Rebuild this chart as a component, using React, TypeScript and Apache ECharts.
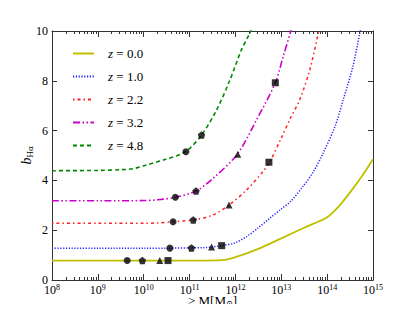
import React, { useEffect, useRef } from "react";
import * as echarts from "echarts";

// log10(M) positions and bias values
const z00_e = [8, 9, 10, 11, 11.6, 11.8, 12.0, 12.2, 12.4, 12.6, 13.0, 13.5, 14.0, 14.25, 14.5, 14.75, 15];
const z00_b = [0.78, 0.78, 0.78, 0.78, 0.79, 0.82, 0.92, 1.04, 1.18, 1.33, 1.67, 2.1, 2.52, 2.95, 3.52, 4.15, 4.85];

const z10_e = [8, 9, 10, 10.6, 11.0, 11.3, 11.5, 11.7, 12.0, 12.25, 12.5, 12.75, 13.0, 13.2, 13.47, 13.7, 13.9, 14.17, 14.35, 14.56, 14.71, 14.74];
const z10_b = [1.28, 1.28, 1.28, 1.28, 1.29, 1.3, 1.33, 1.38, 1.5, 1.75, 2.1, 2.48, 2.85, 3.15, 3.75, 4.35, 5.05, 6.16, 7.23, 8.57, 9.9, 10.2];

const z22_e = [8, 9, 10, 10.3, 10.64, 11.08, 11.51, 11.86, 12.24, 12.6, 12.75, 13.0, 13.2, 13.4, 13.62, 13.8, 13.83];
const z22_b = [2.28, 2.28, 2.28, 2.29, 2.34, 2.41, 2.61, 3.01, 3.61, 4.35, 4.75, 5.7, 6.5, 7.23, 8.43, 9.84, 10.1];

const z32_e = [8, 9, 10, 10.3, 10.69, 11.14, 11.51, 12.04, 12.46, 12.87, 13.04, 13.2, 13.22];
const z32_b = [3.18, 3.18, 3.19, 3.22, 3.32, 3.57, 4.08, 5.05, 6.43, 7.92, 8.97, 9.95, 10.1];

const z48_e = [8, 9, 9.5, 9.77, 10.06, 10.43, 10.91, 11.26, 11.59, 11.88, 12.13, 12.31, 12.35];
const z48_b = [4.39, 4.4, 4.43, 4.47, 4.62, 4.82, 5.15, 5.82, 6.83, 8.03, 9.24, 9.9, 10.1];

// halo-mass markers
const circle_e = [9.64, 10.57, 10.64, 10.69, 10.92];
const circle_b = [0.78, 1.28, 2.34, 3.32, 5.15];
const pentagon_e = [9.97, 11.04, 11.08, 11.14, 11.26];
const pentagon_b = [0.78, 1.29, 2.41, 3.57, 5.82];
const triangle_e = [10.35, 11.48, 11.86, 12.05];
const triangle_b = [0.78, 1.33, 3.01, 5.05];
const square_e = [10.53, 11.7, 12.73, 12.87];
const square_b = [0.78, 1.38, 4.73, 7.92];

const seriesNames = ["z = 0.0", "z = 1.0", "z = 2.2", "z = 3.2", "z = 4.8"];
const majorExps = [8, 9, 10, 11, 12, 13, 14, 15];
const yTicks = [0, 2, 4, 6, 8, 10];

const FONT = "Liberation Serif, DejaVu Serif, serif";

function pts(e: number[], b: number[]) {
  return e.map((v, i) => [Math.pow(10, v), b[i]]);
}

export default function App() {
  const ref = useRef<HTMLDivElement>(null);
  useEffect(() => {
    if (!ref.current) return;
    const chart = echarts.init(ref.current, null, { renderer: "svg" });
    const majors = majorExps.map((e) => Math.pow(10, e));
    const minors: number[] = [];
    for (let k = 8; k < 15; k++) for (let m = 2; m <= 9; m++) minors.push(m * Math.pow(10, k));
    const frame = { show: true, lineStyle: { color: "#333", width: 1 } };
    const xBase = {
      type: "log",
      logBase: 10,
      min: 1e8,
      max: 1.000001e15,
      gridIndex: 0,
      splitLine: { show: false },
    };
    const pentagon = "path://M0,-1 L0.951,-0.309 L0.588,0.809 L-0.588,0.809 L-0.951,-0.309 Z";
    const lineDefs = [
      { e: z00_e, b: z00_b, color: "#bfbf00", type: "solid", width: 1.8 },
      { e: z10_e, b: z10_b, color: "#2222ff", type: [1.2, 1.6], width: 1.5 },
      { e: z22_e, b: z22_b, color: "#ff2020", type: [1.5, 3, 3, 3], width: 1.5 },
      { e: z32_e, b: z32_b, color: "#cc00cc", type: [7, 2.5, 1.5, 2.5, 1.5, 2.5], width: 1.6 },
      { e: z48_e, b: z48_b, color: "#008800", type: [4, 3], width: 1.6 },
    ];
    const markerDefs = [
      { e: circle_e, b: circle_b, symbol: "circle", size: 7 },
      { e: pentagon_e, b: pentagon_b, symbol: pentagon, size: 7.5 },
      { e: triangle_e, b: triangle_b, symbol: "triangle", size: 7 },
      { e: square_e, b: square_b, symbol: "rect", size: 7 },
    ];
    chart.setOption({
      animation: false,
      textStyle: { fontFamily: FONT },
      grid: { left: 52, right: 42, top: 31, bottom: 32, outerBoundsMode: "none", containLabel: false },
      legend: {
        orient: "vertical",
        left: 67,
        top: 42,
        itemWidth: 21,
        itemHeight: 10,
        itemGap: 10,
        data: seriesNames,
        itemStyle: { opacity: 0 },
        textStyle: {
          fontFamily: FONT,
          fontSize: 13,
          color: "#000",
          padding: [0, 0, 0, 9],
          rich: {
            i: { fontStyle: "italic", fontSize: 13, fontFamily: FONT, color: "#000" },
            t: { fontSize: 13, fontFamily: FONT, color: "#000" },
          },
        },
        formatter: (n: string) => "{i|z}{t|" + n.slice(1) + "}",
      },
      xAxis: [
        {
          ...xBase,
          position: "bottom",
          axisLine: frame,
          axisTick: { show: true, inside: true, length: 6, customValues: majors, lineStyle: { color: "#333" } },
          axisLabel: {
            customValues: majors,
            showMaxLabel: true,
            showMinLabel: true,
            hideOverlap: false,
            margin: 3,
            color: "#000",
            fontFamily: FONT,
            formatter: (v: number) => "{b|10}{s|" + Math.round(Math.log10(v)) + "}",
            rich: {
              b: { fontSize: 12, fontFamily: FONT, color: "#000", lineHeight: 12, padding: [2, 0, 0, 0] },
              s: { fontSize: 8, fontFamily: FONT, color: "#000", lineHeight: 9, verticalAlign: "top" },
            },
          },
          name: "{t|> M[M}{s|⊙}{t|]}",
          nameLocation: "middle",
          nameGap: 14,
          nameMoveOverlap: false,
          nameTextStyle: {
            fontFamily: FONT,
            lineHeight: 13,
            rich: {
              t: { fontSize: 13, fontFamily: FONT, color: "#000", lineHeight: 13 },
              s: { fontSize: 8, fontFamily: FONT, color: "#000", lineHeight: 13, verticalAlign: "bottom" },
            },
          },
        },
        {
          ...xBase,
          position: "bottom",
          axisLine: { show: false },
          axisTick: { show: true, inside: true, length: 3, customValues: minors, lineStyle: { color: "#333" } },
          axisLabel: { show: false },
        },
        {
          ...xBase,
          position: "top",
          axisLine: frame,
          axisTick: { show: true, inside: true, length: 6, customValues: majors, lineStyle: { color: "#333" } },
          axisLabel: { show: false },
        },
        {
          ...xBase,
          position: "top",
          axisLine: { show: false },
          axisTick: { show: true, inside: true, length: 3, customValues: minors, lineStyle: { color: "#333" } },
          axisLabel: { show: false },
        },
      ],
      yAxis: [
        {
          type: "value",
          min: 0,
          max: 10,
          interval: 2,
          position: "left",
          axisLine: frame,
          splitLine: { show: false },
          axisTick: { show: true, inside: true, length: 5, lineStyle: { color: "#333" } },
          axisLabel: {
            customValues: yTicks,
            fontSize: 12,
            lineHeight: 8,
            color: "#000",
            fontFamily: FONT,
            margin: 4,
            padding: [0, 0, 2, 0],
          },
          name: "{b|b}{s|Hα}",
          nameLocation: "middle",
          nameRotate: 90,
          nameGap: 18,
          nameMoveOverlap: false,
          nameTextStyle: {
            fontFamily: FONT,
            rich: {
              b: { fontSize: 14, fontStyle: "italic", fontFamily: FONT, color: "#000" },
              s: { fontSize: 9, fontFamily: FONT, color: "#000", padding: [6, 0, 0, 0] },
            },
          },
        },
        {
          type: "value",
          min: 0,
          max: 10,
          interval: 2,
          position: "right",
          axisLine: frame,
          splitLine: { show: false },
          axisTick: { show: true, inside: true, length: 5, lineStyle: { color: "#333" } },
          axisLabel: { show: false },
        },
      ],
      series: [
        ...lineDefs.map((d, i) => ({
          name: seriesNames[i],
          type: "line",
          xAxisIndex: 0,
          yAxisIndex: 0,
          data: pts(d.e, d.b),
          showSymbol: false,
          symbol: "none",
          smooth: 0.3,
          clip: true,
          lineStyle: { color: d.color, type: d.type, width: d.width },
          itemStyle: { color: d.color },
          z: 2,
        })),
        ...markerDefs.map((m) => ({
          type: "scatter",
          xAxisIndex: 0,
          yAxisIndex: 0,
          data: pts(m.e, m.b),
          symbol: m.symbol,
          symbolSize: m.size,
          itemStyle: { color: "#000" },
          z: 5,
        })),
      ],
    });
    return () => chart.dispose();
  }, []);
  return <div ref={ref} style={{ width: 415, height: 312, margin: -8 }} />;
}
